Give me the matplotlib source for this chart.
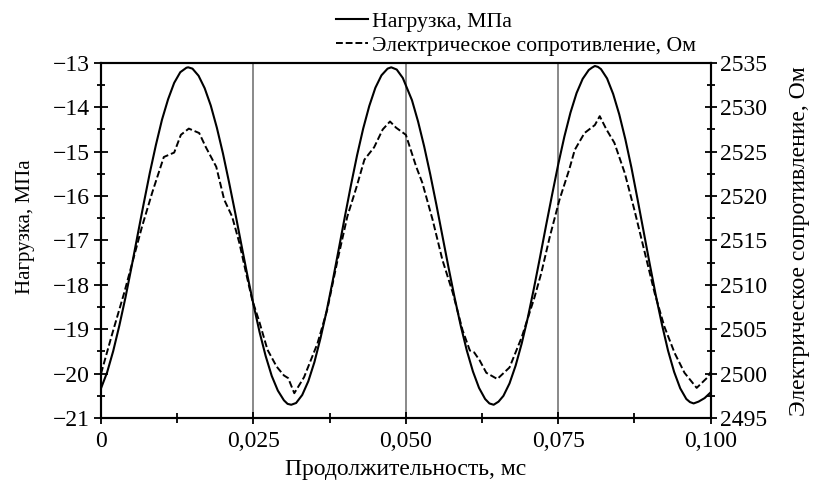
import numpy as np
import matplotlib
matplotlib.use("Agg")
import matplotlib.pyplot as plt
from matplotlib import font_manager as fm
from matplotlib.ticker import MultipleLocator

FONT = 'Liberation Serif'
FPATH = fm.findfont(FONT)

def fp(size):
    return fm.FontProperties(fname=FPATH, size=size)

# time in thousandths of ms
load_t = [0, 1, 2, 3, 4, 5, 6, 7, 8, 9, 10, 11, 12, 13, 14, 14.3, 15, 16, 17, 18, 19, 20,
          21, 22, 23, 24, 25, 26, 27, 28, 29, 30, 30.6, 31.2, 32, 33, 34, 35, 36, 37, 38,
          39, 40, 41, 42, 43, 44, 45, 46, 47, 47.6, 48.5, 49.5, 51, 52, 53, 54, 55, 56,
          57, 58, 59, 60, 61, 62, 63, 63.7, 64.4, 65.2, 66, 67, 68, 69, 70, 71, 72, 73,
          74, 75, 76, 77, 78, 79, 80, 80.5, 81, 81.5, 82, 83, 84, 85, 86, 87, 88, 89, 90,
          91, 92, 93, 94, 95, 96, 96.6, 97.2, 98, 99, 100]
load_mpa = [-20.33, -19.97, -19.49, -18.92, -18.29, -17.60, -16.88, -16.17, -15.48, -14.85,
            -14.28, -13.82, -13.45, -13.21, -13.11, -13.10, -13.13, -13.29, -13.57, -13.96,
            -14.46, -15.04, -15.69, -16.37, -17.08, -17.78, -18.44, -19.06, -19.60, -20.05,
            -20.38, -20.60, -20.68, -20.70, -20.66, -20.48, -20.17, -19.74, -19.20, -18.59,
            -17.91, -17.19, -16.46, -15.75, -15.08, -14.48, -13.97, -13.56, -13.28, -13.13,
            -13.10, -13.15, -13.34, -13.84, -14.32, -14.88, -15.51, -16.19, -16.90, -17.61,
            -18.29, -18.92, -19.48, -19.95, -20.32, -20.57, -20.67, -20.70, -20.63, -20.50,
            -20.22, -19.82, -19.32, -18.74, -18.08, -17.38, -16.66, -15.96, -15.28, -14.66,
            -14.12, -13.68, -13.36, -13.16, -13.11, -13.07, -13.09, -13.14, -13.35, -13.70,
            -14.16, -14.72, -15.36, -16.07, -16.80, -17.53, -18.24, -18.89, -19.48, -19.96,
            -20.33, -20.57, -20.64, -20.67, -20.63, -20.55, -20.42]

res_t = [0, 1.8, 3.8, 6.7, 8.4, 10.3, 12.0, 13.1, 14.4, 16.1, 17.2, 18.9, 20.2, 21.5, 22.7,
         23.8, 24.8, 25.9, 27.3, 28.8, 30.0, 30.7, 31.7, 33.3, 35.5, 37.1, 38.8, 40.4, 41.9,
         43.2, 44.8, 46.2, 47.4, 48.4, 50.0, 51.7, 52.7, 54.4, 56.0, 57.7, 59.3, 60.5, 61.2,
         62.1, 63.2, 65.0, 67.0, 69.0, 71.1, 72.2, 73.6, 75.2, 76.8, 77.7, 79.3, 81.0, 81.8,
         82.9, 84.2, 85.9, 87.5, 89.2, 90.8, 92.4, 94.1, 95.7, 97.7, 99.5, 100]
res_ohm = [2500.0, 2504.4, 2509.1, 2516.5, 2520.4, 2524.4, 2524.9, 2526.9, 2527.6, 2527.1,
           2525.5, 2523.3, 2519.6, 2517.7, 2514.7, 2511.3, 2508.3, 2506.0, 2502.7, 2500.8,
           2499.8, 2499.5, 2497.8, 2499.6, 2503.4, 2507.2, 2512.8, 2517.7, 2521.0, 2524.1,
           2525.5, 2527.5, 2528.4, 2527.7, 2526.9, 2523.3, 2521.5, 2517.3, 2512.8, 2509.1,
           2504.9, 2502.6, 2502.4, 2501.5, 2500.1, 2499.4, 2500.7, 2504.1, 2508.6, 2511.3,
           2515.4, 2519.6, 2523.0, 2525.2, 2527.1, 2528.0, 2529.0, 2527.5, 2526.0, 2522.6,
           2518.4, 2513.6, 2509.1, 2505.3, 2502.3, 2500.1, 2498.4, 2499.6, 2500.2]

xticks = [0, 0.025, 0.050, 0.075, 0.100]
xtick_labels = ['0', '0,025', '0,050', '0,075', '0,100']
load_ticks = [-21, -20, -19, -18, -17, -16, -15, -14, -13]
res_ticks = [2495, 2500, 2505, 2510, 2515, 2520, 2525, 2530, 2535]
vlines = [0.025, 0.050, 0.075]

fig = plt.figure(figsize=(8.14, 4.8), dpi=100)
ax = fig.add_axes([0.1241, 0.129, 0.749, 0.740])
ax2 = ax.twinx()

for v in vlines:
    ax.axvline(v, color='#6a6a6a', lw=1.1, zorder=1)

l1, = ax.plot(np.array(load_t) / 1000, load_mpa, color='black', lw=1.5, zorder=3)
l2, = ax2.plot(np.array(res_t) / 1000, res_ohm, color='black', lw=1.4,
               dashes=(3.5, 1.5), zorder=3)

ax.set_xlim(0, 0.1)
ax.set_ylim(-21, -13)
ax2.set_ylim(2495, 2535)

ax.set_xticks(xticks, xtick_labels)
ax.set_yticks(load_ticks, ['\u2212%d' % abs(t) for t in load_ticks])
ax2.set_yticks(res_ticks, [str(t) for t in res_ticks])
ax.xaxis.set_minor_locator(MultipleLocator(0.0125))
ax.yaxis.set_minor_locator(MultipleLocator(0.5))
ax2.yaxis.set_minor_locator(MultipleLocator(2.5))

ax.tick_params(axis='x', which='major', direction='inout', length=9, width=1.3, pad=5)
ax.tick_params(axis='x', which='minor', direction='inout', length=7, width=1.3)
ax.tick_params(axis='y', which='major', direction='inout', length=10, width=1.3, pad=3)
ax.tick_params(axis='y', which='minor', direction='inout', length=6, width=1.3)
ax2.tick_params(axis='y', which='major', direction='inout', length=9, width=1.3, pad=2)
ax2.tick_params(axis='y', which='minor', direction='inout', length=6, width=1.3)

for lbl in ax.get_xticklabels() + ax.get_yticklabels() + ax2.get_yticklabels():
    lbl.set_fontproperties(fp(17))

for a in (ax, ax2):
    for s in a.spines.values():
        s.set_linewidth(1.5)

ax.set_xlabel('Продолжительность, мс', fontproperties=fp(17), labelpad=5)
ax.set_ylabel('Нагрузка, МПа', fontproperties=fp(15))
ax.yaxis.set_label_coords(-0.108, 0.54)
ax2.set_ylabel('Электрическое сопротивление, Ом', fontproperties=fp(17))
ax2.yaxis.set_label_coords(1.128, 0.497)

fig.legend([l1, l2], ['Нагрузка, МПа', 'Электрическое сопротивление, Ом'],
           loc='upper left', bbox_to_anchor=(0.394, 1.008), frameon=False,
           prop=fp(15.7), handlelength=1.45, handletextpad=0.22,
           labelspacing=0.17, borderpad=0.2)

plt.savefig('out.png', dpi=100)
plt.close()
